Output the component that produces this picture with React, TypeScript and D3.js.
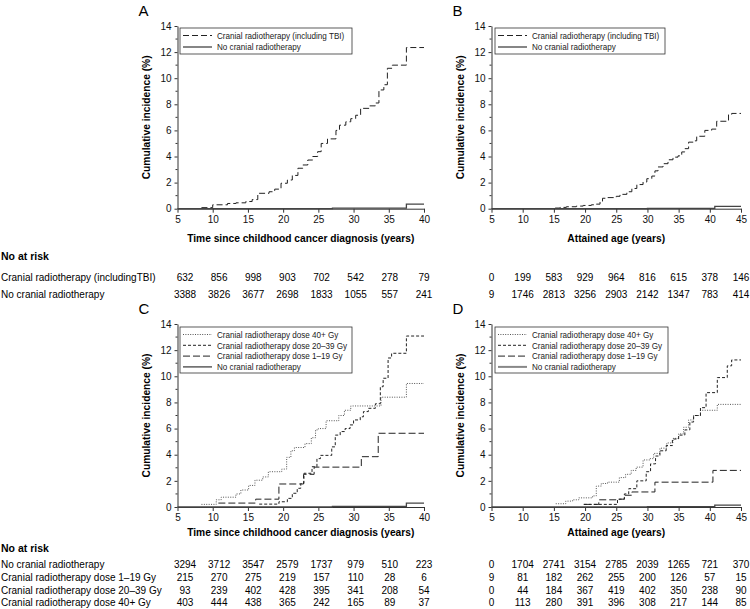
import React, { useEffect, useRef } from 'react';
import * as d3 from 'd3';

// step curves, [time, cumulative incidence %]
const aCranial = [[8.4, 0.08], [10.0, 0.3], [12.1, 0.4], [13.3, 0.45], [14.7, 0.55], [15.6, 0.7], [16.4, 1.18], [18.0, 1.3], [18.8, 1.5], [19.7, 1.95], [20.6, 2.2], [21.3, 2.55], [22.1, 3.1], [22.8, 3.35], [23.5, 3.73], [24.2, 4.0], [24.9, 4.37], [25.4, 5.0], [26.3, 5.35], [27.5, 6.0], [28.0, 6.4], [28.9, 6.66], [29.6, 6.9], [30.3, 7.16], [31.0, 7.69], [32.2, 7.88], [33.1, 8.1], [33.6, 9.1], [34.3, 9.5], [34.8, 10.76], [35.5, 11.0], [37.5, 12.35], [40, 12.35]];
const aNone = [[5, 0], [27, 0.05], [37.5, 0.35], [40, 0.35]];

const bCranial = [[15.2, 0.05], [16, 0.1], [17, 0.15], [18.6, 0.2], [19.7, 0.25], [21, 0.3], [21.8, 0.35], [22.4, 0.55], [22.8, 0.8], [23.4, 0.85], [25, 0.95], [25.6, 1.1], [26.7, 1.3], [27.5, 1.55], [28.3, 1.85], [29.3, 2.05], [29.9, 2.3], [30.7, 2.5], [31.2, 2.9], [31.7, 3.2], [32.5, 3.45], [33.3, 3.75], [34.1, 3.95], [34.9, 4.05], [35.5, 4.35], [36, 4.6], [36.6, 5.1], [37.4, 5.2], [37.9, 5.55], [39.2, 6.0], [40.3, 6.1], [41.1, 6.7], [43, 7.2], [43.5, 7.3], [45, 7.3]];
const bNone = [[5, 0], [30, 0.03], [40.8, 0.18], [45, 0.18]];

const c40 = [[8.4, 0.2], [10.5, 0.55], [11.2, 0.75], [13.3, 1.0], [14.0, 1.3], [15.1, 1.65], [16.0, 2.05], [17.1, 2.3], [17.9, 2.7], [19.8, 2.9], [20.5, 3.8], [21.1, 4.3], [21.6, 4.55], [23.1, 4.85], [24.0, 5.3], [24.6, 5.9], [25.0, 6.0], [26.1, 6.6], [27.9, 7.0], [28.7, 7.4], [29.6, 7.73], [33.9, 8.4], [37.5, 9.45], [40, 9.45]];
const c20 = [[16.6, 0.22], [19.4, 0.4], [20.6, 0.66], [21.3, 1.05], [22.0, 1.43], [22.5, 1.8], [22.95, 2.58], [24.1, 3.08], [24.8, 3.7], [25.3, 3.95], [26.9, 4.6], [27.4, 5.5], [28.1, 5.77], [28.8, 6.0], [29.5, 6.28], [30.0, 6.66], [30.95, 6.9], [31.4, 7.3], [32.1, 7.55], [33.1, 7.9], [33.8, 9.2], [34.2, 9.85], [34.9, 11.4], [35.4, 11.76], [37.5, 13.08], [40, 13.08]];
const c1 = [[10.8, 0.3], [16.1, 0.6], [19.4, 1.76], [22.9, 2.5], [24.4, 3.05], [31.1, 3.85], [33.5, 5.64], [40, 5.64]];
const cNone = [[5, 0], [27, 0.05], [37.5, 0.3], [40, 0.3]];

const d40 = [[15.3, 0.25], [16.9, 0.45], [18.0, 0.55], [19.0, 0.7], [21.2, 0.85], [21.8, 1.6], [22.6, 1.8], [23.6, 1.9], [25.5, 2.25], [26.5, 2.5], [27.4, 2.8], [28.2, 3.05], [29.3, 3.6], [30.4, 3.7], [31.0, 4.1], [32.0, 4.5], [33.1, 4.9], [34.1, 5.25], [35.0, 5.6], [35.8, 6.1], [36.6, 6.66], [37.4, 7.0], [38.5, 7.4], [41.2, 7.85], [45, 7.85]];
const d20 = [[19.8, 0.2], [25.2, 0.6], [26.3, 1.0], [27, 1.4], [28.3, 2.0], [29.8, 2.7], [30.5, 3.3], [31.3, 3.9], [32, 4.3], [33, 4.7], [34, 5.2], [35, 5.5], [36, 5.9], [36.8, 6.5], [37.4, 7.0], [38.5, 7.6], [39.4, 8.75], [41.2, 9.9], [42.8, 10.8], [43.5, 11.25], [45, 11.25]];
const d1 = [[19.8, 0.2], [22.2, 0.55], [25.5, 0.6], [26.3, 0.9], [27.5, 1.15], [31.2, 1.9], [40.5, 2.8], [45, 2.8]];
const dNone = [[5, 0], [30, 0.03], [40.8, 0.15], [45, 0.15]];

const timeTicks = [5, 10, 15, 20, 25, 30, 35, 40];
const ageTicks = [5, 10, 15, 20, 25, 30, 35, 40, 45];
const yTicks = [0, 2, 4, 6, 8, 10, 12, 14];

// numbers at risk
const riskTopLabels = ['Cranial radiotherapy (includingTBI)', 'No cranial radiotherapy'];
const riskTopTime = [
  [632, 856, 998, 903, 702, 542, 278, 79],
  [3388, 3826, 3677, 2698, 1833, 1055, 557, 241],
];
const riskTopAge = [
  [0, 199, 583, 929, 964, 816, 615, 378, 146],
  [9, 1746, 2813, 3256, 2903, 2142, 1347, 783, 414],
];
const riskBotLabels = ['No cranial radiotherapy', 'Cranial radiotherapy dose 1\u201319 Gy', 'Cranial radiotherapy dose 20\u201339 Gy', 'Cranial radiotherapy dose 40+ Gy'];
const riskBotTime = [
  [3294, 3712, 3547, 2579, 1737, 979, 510, 223],
  [215, 270, 275, 219, 157, 110, 28, 6],
  [93, 239, 402, 428, 395, 341, 208, 54],
  [403, 444, 438, 365, 242, 165, 89, 37],
];
const riskBotAge = [
  [0, 1704, 2741, 3154, 2785, 2039, 1265, 721, 370],
  [9, 81, 182, 262, 255, 200, 126, 57, 15],
  [0, 44, 184, 367, 419, 402, 350, 238, 90],
  [0, 113, 280, 391, 396, 308, 217, 144, 85],
];

const FONT = "'Liberation Sans Narrow', 'Arial Narrow', 'Liberation Sans', Arial, sans-serif";

const styles = {
  tbi: { dash: '6,3', color: '#222', width: 1, label: 'Cranial radiotherapy (including TBI)' },
  none: { dash: null, color: '#444', width: 1.3, label: 'No cranial radiotherapy' },
  g40: { dash: '1,1.4', color: '#555', width: 1, label: 'Cranial radiotherapy dose 40+ Gy' },
  g20: { dash: '3,2', color: '#222', width: 1, label: 'Cranial radiotherapy dose 20\u201339 Gy' },
  g1: { dash: '7,3', color: '#222', width: 1, label: 'Cranial radiotherapy dose 1\u201319 Gy' },
};

const panels = [
  { id: 'A', left: 177.5, right: 424, top: 26, bottom: 208.7, domain: [5, 40], ticks: timeTicks, title: 'Time since childhood cancer diagnosis (years)',
    series: [['tbi', aCranial], ['none', aNone]], legend: [180, 28, 172, 26], titleY: 242 },
  { id: 'B', left: 491.5, right: 741, top: 26, bottom: 208.7, domain: [5, 45], ticks: ageTicks, title: 'Attained age (years)',
    series: [['tbi', bCranial], ['none', bNone]], legend: [495, 28, 170, 26], titleY: 242 },
  { id: 'C', left: 177.5, right: 424, top: 324, bottom: 507, domain: [5, 40], ticks: timeTicks, title: 'Time since childhood cancer diagnosis (years)',
    series: [['g40', c40], ['g20', c20], ['g1', c1], ['none', cNone]], legend: [180, 327, 172, 46], titleY: 536 },
  { id: 'D', left: 491.5, right: 741, top: 324, bottom: 507, domain: [5, 45], ticks: ageTicks, title: 'Attained age (years)',
    series: [['g40', d40], ['g20', d20], ['g1', d1], ['none', dNone]], legend: [495, 327, 173, 46], titleY: 536 },
];

// squeeze a text node horizontally, like a condensed face
const squeeze = (sel, k) => {
  const n = sel.node();
  if (n && n.getComputedTextLength) {
    sel.attr('textLength', n.getComputedTextLength() * k).attr('lengthAdjust', 'spacingAndGlyphs');
  }
  return sel;
};

const App = () => {
  const ref = useRef(null);

  useEffect(() => {
    const svg = d3.select(ref.current);
    svg.selectAll('*').remove();
    svg.style('font-family', FONT);

    panels.forEach(p => {
      const x = d3.scaleLinear().domain(p.domain).range([p.left, p.right]);
      const y = d3.scaleLinear().domain([0, 14]).range([p.bottom, p.top]);
      const g = svg.append('g');

      // panel letter
      g.append('text').attr('x', p.left - 39).attr('y', p.top - 10)
        .attr('font-size', 15).attr('font-family', 'Liberation Sans, Arial, sans-serif').text(p.id);

      // y axis
      const ya = g.append('g').attr('transform', `translate(${p.left},0)`)
        .call(d3.axisLeft(y).tickValues(yTicks).tickSize(3).tickSizeOuter(0).tickPadding(3));
      ya.selectAll('text').attr('font-size', 10).attr('font-family', FONT).attr('fill', '#111');
      ya.selectAll('line, path').attr('stroke', '#333');
      g.selectAll('.minor-y').data(d3.range(1, 14, 2)).join('line')
        .attr('x1', p.left - 2).attr('x2', p.left).attr('y1', d => y(d)).attr('y2', d => y(d)).attr('stroke', '#333');

      // x axis
      const xa = g.append('g').attr('transform', `translate(0,${p.bottom})`)
        .call(d3.axisBottom(x).tickValues(p.ticks).tickSize(4).tickSizeOuter(0).tickPadding(3));
      xa.selectAll('text').attr('font-size', 10).attr('font-family', FONT).attr('fill', '#111');
      xa.selectAll('line, path').attr('stroke', '#333');

      // titles
      squeeze(g.append('text').attr('transform', `translate(${p.left - 28},${(p.top + p.bottom) / 2}) rotate(-90)`)
        .attr('text-anchor', 'middle').attr('font-size', 11).attr('font-weight', 'bold').text('Cumulative incidence (%)'), 0.93);
      squeeze(g.append('text').attr('x', (p.left + p.right) / 2).attr('y', p.titleY)
        .attr('text-anchor', 'middle').attr('font-size', 11).attr('font-weight', 'bold').text(p.title), 0.93);

      // curves
      const line = d3.line().x(d => x(d[0])).y(d => y(d[1])).curve(d3.curveStepAfter);
      p.series.forEach(([key, data]) => {
        const s = styles[key];
        g.append('path').datum(data).attr('d', line).attr('fill', 'none')
          .attr('stroke', s.color).attr('stroke-width', s.width)
          .attr('stroke-dasharray', s.dash);
      });

      // legend
      const [lx, ly, lw, lh] = p.legend;
      g.append('rect').attr('x', lx).attr('y', ly).attr('width', lw).attr('height', lh)
        .attr('fill', '#fff').attr('stroke', '#333').attr('stroke-width', 0.8);
      const step = p.series.length > 2 ? 10.8 : 11.5;
      p.series.forEach(([key], i) => {
        const s = styles[key];
        const yy = ly + 7.5 + i * step;
        g.append('line').attr('x1', lx + 3).attr('x2', lx + 32).attr('y1', yy).attr('y2', yy)
          .attr('stroke', p.id === 'D' && key === 'none' ? '#888' : s.color)
          .attr('stroke-width', p.id === 'D' && key === 'none' ? 2 : s.width)
          .attr('stroke-dasharray', s.dash);
        squeeze(g.append('text').attr('x', lx + 37).attr('y', yy + 3.2).attr('font-size', 9)
          .attr('fill', '#222').text(s.label), 0.9);
      });
    });

    // numbers at risk
    const xt = d3.scaleLinear().domain([5, 40]).range([185, 424]);
    const xg = d3.scaleLinear().domain([5, 45]).range([491.5, 741]);
    const table = (labels, left, right, headY, rowY, step) => {
      svg.append('text').attr('x', 1).attr('y', headY).attr('font-size', 10.5).attr('font-weight', 'bold').text('No at risk');
      labels.forEach((lab, i) => {
        const yy = rowY + i * step;
        svg.append('text').attr('x', 1).attr('y', yy).attr('font-size', 10).text(lab);
        left[i].forEach((v, j) => {
          svg.append('text').attr('x', xt(timeTicks[j])).attr('y', yy).attr('font-size', 10)
            .attr('text-anchor', 'middle').text(v);
        });
        right[i].forEach((v, j) => {
          svg.append('text').attr('x', xg(ageTicks[j])).attr('y', yy).attr('font-size', 10)
            .attr('text-anchor', 'middle').text(v);
        });
      });
    };
    table(riskTopLabels, riskTopTime, riskTopAge, 260, 281, 17);
    table(riskBotLabels, riskBotTime, riskBotAge, 552, 568, 12.8);
  }, []);

  return (
    <svg ref={ref} width={750} height={609} style={{ position: 'absolute', left: 0, top: 0, background: '#fff' }} />
  );
};

export default App;
